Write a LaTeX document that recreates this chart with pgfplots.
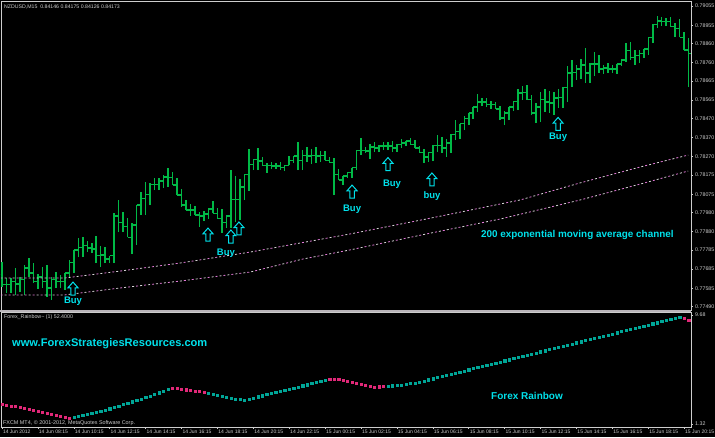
\documentclass[border=0pt]{standalone}
\usepackage{fontspec}
\setmainfont{Liberation Sans}
\usepackage{pgfplots}
\usepackage{pgfplotstable}
\pgfplotsset{compat=1.18}

\definecolor{barg}{RGB}{0,185,70}
\definecolor{cyanT}{RGB}{0,225,235}
\definecolor{frameC}{RGB}{205,205,205}
\definecolor{maP}{RGB}{225,120,215}
\definecolor{maW}{RGB}{215,215,215}
\definecolor{rbP}{RGB}{225,40,120}
\definecolor{rbT}{RGB}{0,165,150}
\definecolor{sepC}{RGB}{185,180,185}

\pgfdeclareplotmark{buyarrow}{%
 \pgfpathmoveto{\pgfpoint{0pt}{6.5pt}}%
 \pgfpathlineto{\pgfpoint{5pt}{0.8pt}}%
 \pgfpathlineto{\pgfpoint{2.2pt}{0.8pt}}%
 \pgfpathlineto{\pgfpoint{2.2pt}{-6.5pt}}%
 \pgfpathlineto{\pgfpoint{-2.2pt}{-6.5pt}}%
 \pgfpathlineto{\pgfpoint{-2.2pt}{0.8pt}}%
 \pgfpathlineto{\pgfpoint{-5pt}{0.8pt}}%
 \pgfpathclose
 \pgfusepathqfillstroke}

\pgfplotstableread{
i O H L C
0 0.77655 0.77722 0.77592 0.77603
1 0.77603 0.77639 0.77561 0.77603
2 0.77603 0.77639 0.77561 0.77623
3 0.77623 0.77691 0.77551 0.77608
4 0.77608 0.77644 0.77566 0.77629
5 0.77629 0.77707 0.77551 0.77691
6 0.77691 0.77743 0.77644 0.77665
7 0.77665 0.77717 0.77613 0.77623
8 0.77623 0.77660 0.77582 0.77644
9 0.77644 0.77696 0.77587 0.77623
10 0.77623 0.77707 0.77540 0.77587
11 0.77587 0.77644 0.77525 0.77629
12 0.77629 0.77670 0.77587 0.77623
13 0.77623 0.77655 0.77587 0.77623
14 0.77623 0.77665 0.77577 0.77665
15 0.77665 0.77733 0.77639 0.77722
16 0.77722 0.77785 0.77665 0.77785
17 0.77785 0.77847 0.77748 0.77800
18 0.77800 0.77852 0.77748 0.77806
19 0.77806 0.77832 0.77774 0.77795
20 0.77795 0.77821 0.77769 0.77790
21 0.77790 0.77858 0.77717 0.77754
22 0.77754 0.77806 0.77696 0.77759
23 0.77759 0.77800 0.77717 0.77738
24 0.77738 0.77754 0.77717 0.77754
25 0.77754 0.77977 0.77717 0.77962
26 0.77962 0.78045 0.77878 0.77930
27 0.77930 0.77983 0.77878 0.77905
28 0.77905 0.77951 0.77852 0.77852
29 0.77852 0.77925 0.77764 0.77915
30 0.77915 0.78019 0.77811 0.78019
31 0.78019 0.78087 0.77967 0.78055
32 0.78055 0.78139 0.77967 0.78076
33 0.78076 0.78134 0.78019 0.78128
34 0.78128 0.78160 0.78097 0.78128
35 0.78128 0.78160 0.78097 0.78144
36 0.78144 0.78175 0.78108 0.78165
37 0.78165 0.78212 0.78113 0.78160
38 0.78160 0.78191 0.78123 0.78123
39 0.78123 0.78160 0.78071 0.78071
40 0.78071 0.78102 0.78009 0.78019
41 0.78019 0.78045 0.77993 0.77993
42 0.77993 0.78024 0.77962 0.77993
43 0.77993 0.78014 0.77967 0.77967
44 0.77967 0.77983 0.77905 0.77962
45 0.77962 0.77988 0.77936 0.77972
46 0.77972 0.77998 0.77946 0.77998
47 0.77998 0.78040 0.77977 0.77977
48 0.77977 0.78003 0.77951 0.77951
49 0.77951 0.77998 0.77873 0.77930
50 0.77930 0.77962 0.77899 0.77962
51 0.77962 0.78201 0.77899 0.78050
52 0.78050 0.78170 0.77930 0.78050
53 0.78050 0.78154 0.77941 0.78113
54 0.78113 0.78180 0.78045 0.78180
55 0.78180 0.78310 0.78092 0.78232
56 0.78232 0.78258 0.78201 0.78258
57 0.78258 0.78316 0.78201 0.78248
58 0.78248 0.78269 0.78227 0.78227
59 0.78227 0.78238 0.78186 0.78227
60 0.78227 0.78243 0.78206 0.78222
61 0.78222 0.78238 0.78206 0.78222
62 0.78222 0.78243 0.78201 0.78212
63 0.78212 0.78227 0.78196 0.78227
64 0.78227 0.78274 0.78227 0.78253
65 0.78253 0.78274 0.78238 0.78274
66 0.78274 0.78347 0.78201 0.78253
67 0.78253 0.78305 0.78201 0.78279
68 0.78279 0.78321 0.78243 0.78274
69 0.78274 0.78310 0.78232 0.78279
70 0.78279 0.78321 0.78238 0.78274
71 0.78274 0.78300 0.78243 0.78279
72 0.78279 0.78300 0.78253 0.78253
73 0.78253 0.78269 0.78238 0.78238
74 0.78238 0.78264 0.78071 0.78180
75 0.78180 0.78206 0.78149 0.78149
76 0.78149 0.78170 0.78123 0.78170
77 0.78170 0.78191 0.78160 0.78186
78 0.78186 0.78212 0.78160 0.78212
79 0.78212 0.78305 0.78201 0.78305
80 0.78305 0.78368 0.78279 0.78305
81 0.78305 0.78321 0.78290 0.78300
82 0.78300 0.78336 0.78258 0.78321
83 0.78321 0.78347 0.78295 0.78316
84 0.78316 0.78331 0.78295 0.78326
85 0.78326 0.78347 0.78305 0.78326
86 0.78326 0.78347 0.78305 0.78326
87 0.78326 0.78352 0.78295 0.78316
88 0.78316 0.78336 0.78295 0.78336
89 0.78336 0.78362 0.78316 0.78342
90 0.78342 0.78352 0.78326 0.78352
91 0.78352 0.78368 0.78336 0.78336
92 0.78336 0.78357 0.78316 0.78316
93 0.78316 0.78326 0.78290 0.78290
94 0.78290 0.78310 0.78238 0.78269
95 0.78269 0.78290 0.78243 0.78290
96 0.78290 0.78331 0.78248 0.78331
97 0.78331 0.78383 0.78295 0.78331
98 0.78331 0.78373 0.78290 0.78316
99 0.78316 0.78362 0.78269 0.78342
100 0.78342 0.78388 0.78290 0.78388
101 0.78388 0.78461 0.78357 0.78404
102 0.78404 0.78441 0.78362 0.78441
103 0.78441 0.78482 0.78409 0.78467
104 0.78467 0.78498 0.78435 0.78498
105 0.78498 0.78529 0.78467 0.78529
106 0.78529 0.78597 0.78503 0.78555
107 0.78555 0.78576 0.78534 0.78555
108 0.78555 0.78576 0.78529 0.78540
109 0.78540 0.78560 0.78519 0.78540
110 0.78540 0.78555 0.78519 0.78519
111 0.78519 0.78534 0.78461 0.78472
112 0.78472 0.78508 0.78435 0.78498
113 0.78498 0.78529 0.78461 0.78529
114 0.78529 0.78560 0.78508 0.78560
115 0.78560 0.78623 0.78513 0.78602
116 0.78602 0.78638 0.78566 0.78607
117 0.78607 0.78644 0.78566 0.78566
118 0.78566 0.78592 0.78487 0.78498
119 0.78498 0.78550 0.78446 0.78529
120 0.78529 0.78607 0.78451 0.78566
121 0.78566 0.78623 0.78503 0.78555
122 0.78555 0.78612 0.78498 0.78550
123 0.78550 0.78607 0.78487 0.78576
124 0.78576 0.78623 0.78524 0.78581
125 0.78581 0.78633 0.78524 0.78633
126 0.78633 0.78742 0.78555 0.78706
127 0.78706 0.78774 0.78633 0.78711
128 0.78711 0.78748 0.78670 0.78727
129 0.78727 0.78779 0.78675 0.78748
130 0.78748 0.78836 0.78654 0.78706
131 0.78706 0.78758 0.78654 0.78753
132 0.78753 0.78815 0.78690 0.78753
133 0.78753 0.78800 0.78706 0.78727
134 0.78727 0.78748 0.78701 0.78732
135 0.78732 0.78758 0.78706 0.78727
136 0.78727 0.78748 0.78706 0.78727
137 0.78727 0.78753 0.78701 0.78753
138 0.78753 0.78774 0.78742 0.78774
139 0.78774 0.78862 0.78763 0.78821
140 0.78821 0.78867 0.78774 0.78789
141 0.78789 0.78826 0.78748 0.78795
142 0.78795 0.78826 0.78758 0.78810
143 0.78810 0.78831 0.78784 0.78831
144 0.78831 0.78893 0.78800 0.78893
145 0.78893 0.78961 0.78862 0.78961
146 0.78961 0.79003 0.78940 0.78977
147 0.78977 0.78998 0.78951 0.78972
148 0.78972 0.78992 0.78951 0.78972
149 0.78972 0.78998 0.78946 0.78946
150 0.78946 0.78966 0.78893 0.78940
151 0.78940 0.78987 0.78893 0.78893
152 0.78893 0.78919 0.78826 0.78826
153 0.78826 0.78888 0.78633 0.78810
}\ohlc

\pgfplotstableread{
i v c
0 2.855 p
1 2.778 p
2 2.701 p
3 2.663 p
4 2.586 p
5 2.509 p
6 2.433 p
7 2.356 p
8 2.279 p
9 2.203 p
10 2.126 p
11 2.049 p
12 1.973 p
13 1.896 p
14 1.819 p
15 1.781 p
16 1.858 t
17 1.934 t
18 2.011 t
19 2.088 t
20 2.164 t
21 2.241 t
22 2.318 t
23 2.394 t
24 2.502 t
25 2.609 t
26 2.717 t
27 2.824 t
28 2.931 t
29 3.039 t
30 3.146 t
31 3.238 t
32 3.361 t
33 3.483 t
34 3.606 t
35 3.729 t
36 3.852 t
37 3.974 t
38 4.082 p
39 4.043 p
40 4.005 p
41 3.959 p
42 3.913 p
43 3.867 p
44 3.821 p
45 3.760 p
46 3.698 t
47 3.621 t
48 3.545 t
49 3.468 t
50 3.391 t
51 3.315 t
52 3.253 t
53 3.200 t
54 3.161 t
55 3.246 t
56 3.330 t
57 3.414 t
58 3.499 t
59 3.583 t
60 3.668 t
61 3.752 t
62 3.836 t
63 3.921 t
64 4.005 t
65 4.089 t
66 4.174 t
67 4.258 t
68 4.342 t
69 4.427 t
70 4.511 t
71 4.595 t
72 4.680 t
73 4.772 p
74 4.772 p
75 4.733 p
76 4.695 p
77 4.618 p
78 4.542 p
79 4.465 p
80 4.388 p
81 4.312 p
82 4.235 p
83 4.158 p
84 4.181 p
85 4.212 p
86 4.235 t
87 4.258 t
88 4.289 t
89 4.312 t
90 4.373 t
91 4.427 t
92 4.480 t
93 4.542 t
94 4.628 t
95 4.714 t
96 4.800 t
97 4.886 t
98 4.972 t
99 5.057 t
100 5.143 t
101 5.229 t
102 5.315 t
103 5.401 t
104 5.487 t
105 5.573 t
106 5.659 t
107 5.745 t
108 5.831 t
109 5.917 t
110 6.002 t
111 6.088 t
112 6.174 t
113 6.260 t
114 6.346 t
115 6.432 t
116 6.518 t
117 6.604 t
118 6.690 t
119 6.776 t
120 6.861 t
121 6.947 t
122 7.033 t
123 7.119 t
124 7.205 t
125 7.291 t
126 7.377 t
127 7.463 t
128 7.549 t
129 7.635 t
130 7.721 t
131 7.806 t
132 7.892 t
133 7.978 t
134 8.064 t
135 8.150 t
136 8.236 t
137 8.322 t
138 8.408 t
139 8.494 t
140 8.580 t
141 8.665 t
142 8.751 t
143 8.837 t
144 8.923 t
145 9.009 t
146 9.095 t
147 9.181 t
148 9.267 t
149 9.353 t
150 9.439 t
151 9.525 t
152 9.450 p
153 9.297 p
}\rainbow

\begin{document}
\begin{tikzpicture}[x=1pt,y=1pt]
\fill[black] (0,0) rectangle (715,-437);
% ---------------- price panel ----------------
\begin{axis}[at={(1pt,-1pt)}, anchor=north west, scale only axis,
  width=690pt, height=309pt,
  xmin=-0.223, xmax=153.52, ymin=0.774724, ymax=0.79081,
  axis line style={frameC, line width=0.8pt},
  xtick=\empty, scaled y ticks=false,
  ytick={0.79055,0.78955,0.78860,0.78760,0.78665,0.78565,0.78470,0.78370,0.78270,0.78175,0.78075,0.77980,0.77880,0.77785,0.77685,0.77585,0.77490},
  yticklabels={0.79055,0.78955,0.78860,0.78760,0.78665,0.78565,0.78470,0.78370,0.78270,0.78175,0.78075,0.77980,0.77880,0.77785,0.77685,0.77585,0.77490},
  ytick pos=right, yticklabel pos=right, tick align=outside,
  major tick length=2pt, tick style={frameC, line width=0.6pt},
  yticklabel style={font=\fontsize{5.3}{6}\selectfont, text=frameC, inner sep=0pt, xshift=2pt},
]
% high-low
\addplot[draw=none, no markers, forget plot,
  error bars/.cd, y dir=plus, y explicit, error mark=none,
  error bar style={draw=barg, line width=1.5pt}]
  table[x=i, y=L, y error expr=\thisrow{H}-\thisrow{L}] {\ohlc};
% open ticks
\addplot[draw=none, no markers, forget plot,
  error bars/.cd, x dir=minus, x fixed=0.55, error mark=none,
  error bar style={draw=barg, line width=1.1pt}]
  table[x=i, y=O] {\ohlc};
% close ticks
\addplot[draw=none, no markers, forget plot,
  error bars/.cd, x dir=plus, x fixed=0.55, error mark=none,
  error bar style={draw=barg, line width=1.1pt}]
  table[x=i, y=C] {\ohlc};
% 200 EMA channel (upper / lower)
\addplot[maP, line width=0.8pt, dash pattern=on 2pt off 6pt] coordinates {
(-0.3,0.77639) (14,0.77639) (26.3,0.77675) (39.7,0.77717) (55.3,0.77774) (66.4,0.77821) (77.5,0.77868) (94.5,0.77946) (115.4,0.78045) (128.8,0.78134) (142.2,0.78217) (152.9,0.78279)};
\addplot[maW, line width=0.8pt, dash pattern=on 2pt off 6pt, dash phase=4pt] coordinates {
(-0.3,0.77639) (14,0.77639) (26.3,0.77675) (39.7,0.77717) (55.3,0.77774) (66.4,0.77821) (77.5,0.77868) (94.5,0.77946) (115.4,0.78045) (128.8,0.78134) (142.2,0.78217) (152.9,0.78279)};
\addplot[maP, line width=0.8pt, dash pattern=on 2pt off 6pt] coordinates {
(-0.3,0.77551) (14,0.77551) (26.3,0.77587) (39.7,0.77623) (55.3,0.77670) (67.1,0.77738) (77.5,0.77785) (94.5,0.77868) (111,0.77946) (128.8,0.78045) (142.2,0.78128) (152.9,0.78196)};
\addplot[maW, line width=0.8pt, dash pattern=on 2pt off 6pt, dash phase=4pt] coordinates {
(-0.3,0.77551) (14,0.77551) (26.3,0.77587) (39.7,0.77623) (55.3,0.77670) (67.1,0.77738) (77.5,0.77785) (94.5,0.77868) (111,0.77946) (128.8,0.78045) (142.2,0.78128) (152.9,0.78196)};
% buy arrows
\addplot[only marks, mark=buyarrow, mark options={draw=cyanT, fill=black, line width=1pt}] coordinates {
(15.82,0.77584) (45.9,0.77865) (51.0,0.77855) (52.8,0.77897) (78.0,0.78089) (86.0,0.78232) (95.8,0.78152) (123.9,0.78441)};
\begin{scope}[every node/.style={text=cyanT, font=\bfseries\fontsize{9.5}{12}\selectfont, anchor=base, inner sep=0pt}]
\node at (axis cs:15.82,0.77504) {Buy};
\node at (axis cs:49.9,0.77756) {Buy};
\node at (axis cs:78.0,0.77985) {Buy};
\node at (axis cs:86.9,0.78115) {Buy};
\node at (axis cs:95.8,0.78055) {buy};
\node at (axis cs:123.9,0.78362) {Buy};
\end{scope}
\node[text=cyanT, font=\bfseries\fontsize{9.9}{12}\selectfont, anchor=base west, inner sep=0pt] at (axis cs:106.7,0.77850) {200 exponential moving average channel};
\end{axis}
% ---------------- indicator panel ----------------
\begin{axis}[at={(1pt,-312pt)}, anchor=north west, scale only axis,
  width=690pt, height=115pt,
  xmin=-0.223, xmax=153.52, ymin=1.091, ymax=9.910,
  axis line style={frameC, line width=0.8pt},
  xtick={0,8,...,152},
  xticklabels={14 Jun 2012,14 Jun 08:15,14 Jun 10:15,14 Jun 12:15,14 Jun 14:15,14 Jun 16:15,14 Jun 18:15,14 Jun 20:15,14 Jun 22:15,15 Jun 00:15,15 Jun 02:15,15 Jun 04:15,15 Jun 06:15,15 Jun 08:15,15 Jun 10:15,15 Jun 12:15,15 Jun 14:15,15 Jun 16:15,15 Jun 18:15,15 Jun 20:15},
  ytick={1.32,9.68}, yticklabels={1.32,9.68},
  xtick pos=bottom, ytick pos=right, yticklabel pos=right, tick align=outside,
  major tick length=2pt, tick style={frameC, line width=0.6pt},
  yticklabel style={font=\fontsize{5.3}{6}\selectfont, text=frameC, inner sep=0pt, xshift=2pt},
  xticklabel style={font=\fontsize{5}{6}\selectfont, text=frameC, anchor=north west, inner sep=0pt, xshift=0.8pt, yshift=-0.5pt},
]
\addplot[scatter, only marks, scatter src=explicit symbolic,
  scatter/classes={p={mark=square*, draw=rbP, fill=rbP}, t={mark=square*, draw=rbT, fill=rbT}},
  mark size=1.1pt]
  table[x=i, y=v, meta=c] {\rainbow};
\node[text=cyanT, font=\bfseries\fontsize{11.1}{13}\selectfont, anchor=base west, inner sep=0pt] at (axis cs:2.23,7.303) {www.ForexStrategiesResources.com};
\node[text=cyanT, font=\bfseries\fontsize{10}{12}\selectfont, anchor=base west, inner sep=0pt] at (axis cs:108.96,3.238) {Forex Rainbow};
\end{axis}
\draw[sepC, line width=2.2pt] (0,-311) -- (691,-311);
\node[anchor=base west, inner sep=0pt, text=frameC, font=\fontsize{5.2}{6}\selectfont] at (4,-8.5) {NZDUSD,M15\ \ 0.84146 0.84175 0.84126 0.84173};
\node[anchor=base west, inner sep=0pt, text=frameC, font=\fontsize{5.3}{6}\selectfont] at (4,-318.5) {Forex\_Rainbow\textasciitilde\ (1) 52.4000};
\node[anchor=base west, inner sep=0pt, text=frameC, font=\fontsize{5.4}{6}\selectfont] at (3,-424.5) {FXCM MT4, © 2001-2012, MetaQuotes Software Corp.};
\pgfresetboundingbox
\path[use as bounding box] (0,0) rectangle (715,-437);
\end{tikzpicture}
\end{document}
